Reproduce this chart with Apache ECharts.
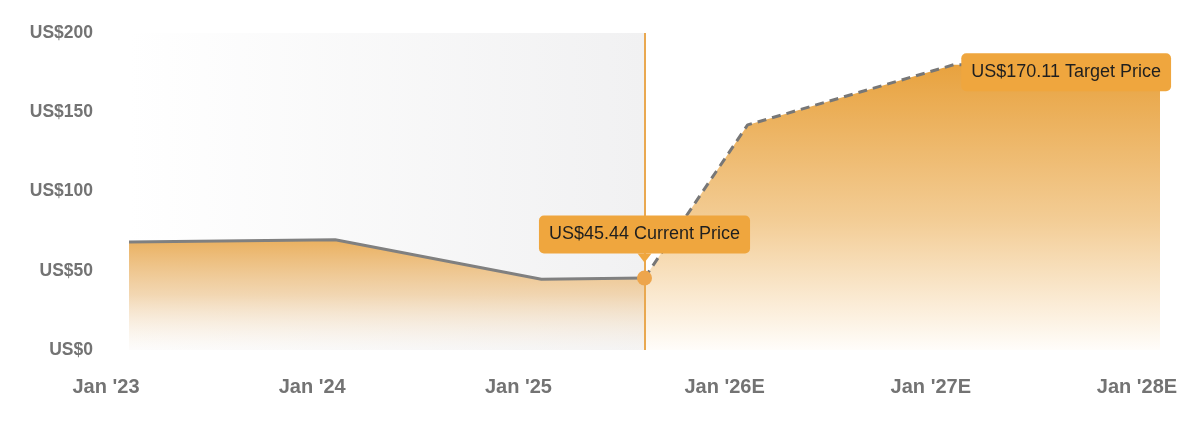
<!DOCTYPE html>
<html><head><meta charset="utf-8">
<script src="https://cdn.jsdelivr.net/npm/echarts@6/dist/echarts.min.js"></script>
<style>html,body{margin:0;padding:0;background:#fff}#c{width:1200px;height:428px}</style>
</head><body><div id="c"></div>
<script>
const xTickLabels = ["Jan '23", "Jan '24", "Jan '25", "Jan '26E", "Jan '27E", "Jan '28E"];
const xStartYear = 2023;
const pastDates = [2023, 2024, 2025, 2025.5];
const pastPrices = [68.2, 69.5, 44.6, 45.44];
const forecastDates = [2025.5, 2026, 2027, 2028];
const forecastPrices = [45.44, 142, 180, 180];
const currentDate = 2025.5;
const currentPrice = 45.44;
const targetDate = 2027;
const targetLinePoint = 180;
const targetPrice = 170.11;

const zip = (a, b) => a.map((v, i) => [v, b[i]]);
const FONT = '"Liberation Sans", Arial, Helvetica, sans-serif';
const ORANGE = '#EFA63E';

const chart = echarts.init(document.getElementById('c'), null, {renderer: 'canvas'});
chart.setOption({
  animation: false,
  grid: {left: 129, right: 40, top: 33, bottom: 78, outerBoundsMode: 'none', containLabel: false},
  xAxis: {
    type: 'value', min: 2023, max: 2028, interval: 1,
    axisLine: {show: false}, axisTick: {show: false}, splitLine: {show: false},
    axisLabel: {
      formatter: v => xTickLabels[Math.round(v - xStartYear)],
      color: '#737373', fontWeight: 'bold', fontSize: 20, fontFamily: FONT,
      margin: 27, padding: [0, 46, 0, 0], showMinLabel: true, showMaxLabel: true
    }
  },
  yAxis: {
    type: 'value', min: 0, max: 200, interval: 50,
    axisLine: {show: false}, axisTick: {show: false}, splitLine: {show: false},
    axisLabel: {formatter: v => 'US$' + v, color: '#737373', fontWeight: 'bold', fontSize: 17.5, fontFamily: FONT, margin: 36}
  },
  series: [
    {
      type: 'line', name: 'bg', data: [], z: 0,
      markArea: {
        silent: true,
        itemStyle: {opacity: 1, color: {type: 'linear', x: 0, y: 0, x2: 1, y2: 0, colorStops: [
          {offset: 0, color: 'rgba(255,255,255,1)'}, {offset: 1, color: '#f1f1f2'}]}},
        data: [[{xAxis: xStartYear}, {xAxis: currentDate}]]
      }
    },
    {
      type: 'line', name: 'past', data: zip(pastDates, pastPrices), z: 2,
      symbol: 'none', lineStyle: {color: '#808080', width: 3},
      areaStyle: {opacity: 1, color: {type: 'linear', x: 0, y: 0, x2: 0, y2: 1, colorStops: [
        {offset: 0, color: 'rgba(234,176,95,1)'}, {offset: 0.5, color: 'rgba(240,208,165,0.85)'}, {offset: 1, color: 'rgba(250,248,246,0.4)'}]}}
    },
    {
      type: 'line', name: 'forecast', data: zip(forecastDates, forecastPrices), z: 2,
      symbol: 'none', lineStyle: {color: '#777777', width: 3, type: [9, 6]},
      areaStyle: {opacity: 1, color: {type: 'linear', x: 0, y: 0, x2: 0, y2: 1, colorStops: [
        {offset: 0, color: 'rgba(232,162,62,1)'}, {offset: 0.55, color: 'rgba(243,205,150,1)'}, {offset: 1, color: 'rgba(255,253,250,1)'}]}}
    },
    {
      type: 'line', name: 'vline', data: [], z: 3,
      markLine: {
        silent: true, symbol: ['none', 'none'], label: {show: false},
        lineStyle: {color: '#E9A850', width: 2, type: 'solid', opacity: 1},
        data: [{xAxis: currentDate}]
      }
    },
    {
      type: 'scatter', name: 'pointer', z: 5, silent: true,
      data: [[currentDate, currentPrice]],
      symbol: 'triangle', symbolRotate: 180, symbolSize: [14, 9], symbolOffset: [0, -20],
      itemStyle: {color: ORANGE, opacity: 1}
    },
    {
      type: 'scatter', name: 'current', z: 6, silent: true,
      data: [[currentDate, currentPrice]],
      symbol: 'circle', symbolSize: 15, itemStyle: {color: '#EDA54C', opacity: 1},
      label: {
        show: true, position: 'top', distance: 17,
        formatter: () => 'US$' + currentPrice.toFixed(2) + ' Current Price',
        backgroundColor: ORANGE, borderRadius: 5, padding: [9, 10],
        color: '#1f1f1f', fontSize: 18, lineHeight: 20, fontFamily: FONT
      }
    },
    {
      type: 'scatter', name: 'target', z: 6, silent: true,
      data: [[targetDate, targetLinePoint]],
      symbol: 'circle', symbolSize: 1, itemStyle: {color: 'rgba(0,0,0,0)', opacity: 1},
      label: {
        show: true, position: [8, -11], align: 'left', verticalAlign: 'top',
        formatter: () => 'US$' + targetPrice.toFixed(2) + ' Target Price',
        backgroundColor: ORANGE, borderRadius: 5, padding: [9, 10],
        color: '#1f1f1f', fontSize: 18, lineHeight: 20, fontFamily: FONT
      }
    }
  ]
});
</script></body></html>
